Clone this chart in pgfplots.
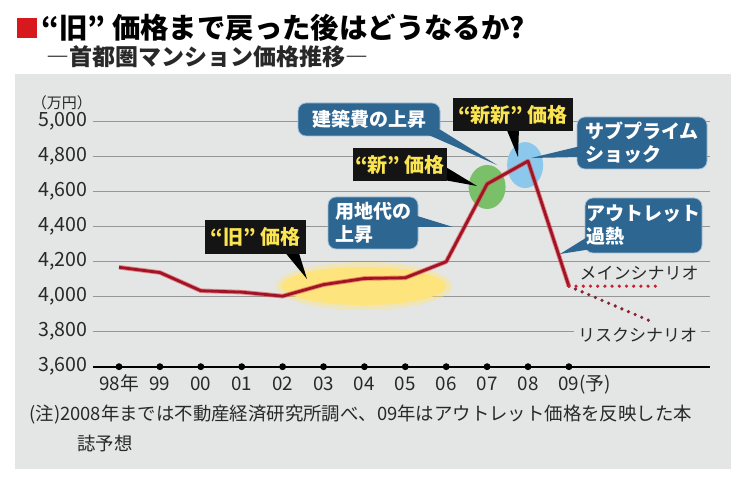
\documentclass[border=0pt]{standalone}
\usepackage{fontspec}
\setmainfont{Noto Sans CJK JP}
\usepackage{pgfplots}
\pgfplotsset{compat=1.18}
\definecolor{panel}{RGB}{228,230,230}
\definecolor{titlered}{RGB}{215,25,30}
\definecolor{gridgray}{RGB}{150,150,150}
\definecolor{linered}{RGB}{160,20,40}
\definecolor{glowred}{RGB}{225,70,70}
\definecolor{dotred}{RGB}{205,30,50}
\definecolor{riskred}{RGB}{135,35,50}
\definecolor{cblue}{RGB}{46,102,146}
\definecolor{cedge}{RGB}{160,190,215}
\definecolor{cyellow}{RGB}{250,228,80}
\definecolor{hiyellow}{RGB}{253,228,125}
\definecolor{higreen}{RGB}{122,192,104}
\definecolor{hiblue}{RGB}{140,200,235}
\definecolor{txt}{RGB}{40,40,40}
\begin{document}
\begin{tikzpicture}
\begin{scope}[x=0.5pt,y=-0.5pt,shift={(0pt,242.5pt)}]
  \fill[white] (0,0) rectangle (750,485);
  \fill[panel] (15,74) rectangle (731,469);
  \fill[titlered] (17,18) rectangle (37,38);
  \node[anchor=west, inner sep=0pt, font=\bfseries\fontsize{14.2}{16}\selectfont, text=black] at (41,28) {“旧” 価格まで戻った後はどうなるか?};
  \node[anchor=west, inner sep=0pt, font=\bfseries\fontsize{11.5}{13}\selectfont, text=txt] at (46,57) {―首都圏マンション価格推移―};
  \node[inner sep=0pt, font=\fontsize{7.5}{8}\selectfont, text=txt] at (62,103) {（万円）};
  \node[anchor=west, inner sep=0pt, font=\fontsize{9.2}{10}\selectfont, text=txt] at (29,415) {(注)2008年までは不動産経済研究所調べ、09年はアウトレット価格を反映した本};
  \node[anchor=west, inner sep=0pt, font=\fontsize{9.2}{10}\selectfont, text=txt] at (77,443) {誌予想};
\end{scope}
\begin{axis}[
  at={(46.5pt,59.15pt)}, anchor=south west,
  scale only axis, width=308.5pt, height=122.5pt,
  xmin=-0.636, xmax=14.45, ymin=3600, ymax=5000,
  clip=false,
  separate axis lines,
  axis x line*=bottom, axis y line*=left,
  x axis line style={black, line width=0.9pt},
  y axis line style={draw=none},
  major tick length=0pt,
  ymajorgrids, grid style={color=gridgray, line width=0.75pt},
  ytick={3600,3800,4000,4200,4400,4600,4800,5000},
  yticklabels={{3,600},{3,800},{4,000},{4,200},{4,400},{4,600},{4,800},{5,000}},
  xtick={0,...,11},
  xticklabels={98年,99,00,01,02,03,04,05,06,07,08,09\rlap{(予)}},
  ticklabel style={text=txt},
  yticklabel style={font=\fontsize{9.8}{10}\selectfont, anchor=east, inner xsep=0pt, xshift=-2.5pt},
  xticklabel style={font=\fontsize{9.4}{10}\selectfont, anchor=base, yshift=-12pt},
]
  % highlights
  \fill[hiyellow, opacity=0.45] (axis cs:5.99,4061) ellipse [x radius=44pt, y radius=12pt];
  \fill[hiyellow] (axis cs:5.99,4061) ellipse [x radius=41pt, y radius=9.5pt];
  \fill[higreen] (axis cs:9.0,4627) ellipse [x radius=9.25pt, y radius=11pt];
  \fill[hiblue] (axis cs:9.93,4752) ellipse [x radius=9pt, y radius=11.5pt];
  % price line
  \addplot[glowred, opacity=0.6, line width=2.3pt, line join=round] coordinates {
    (0,4168) (1,4138) (2,4034) (3,4026) (4,4003) (5,4069) (6,4104) (7,4108) (8,4200) (9,4644) (10,4775) (11,4060)};
  \addplot[linered, line width=1.4pt, line join=round] coordinates {
    (0,4168) (1,4138) (2,4034) (3,4026) (4,4003) (5,4069) (6,4104) (7,4108) (8,4200) (9,4644) (10,4775) (11,4060)};
  % scenarios
  \addplot[riskred, line width=1.8pt, line cap=round, dash pattern=on 0pt off 3.6pt] coordinates {(11,4060) (13.1,3850)};
  \addplot[dotred, line width=1.8pt, line cap=round, dash pattern=on 0pt off 3.6pt] coordinates {(11,4060) (13.2,4060)};
  % axis dots
  \addplot[only marks, mark=*, mark size=1.5pt, black] coordinates {
    (0,3600) (1,3600) (2,3600) (3,3600) (4,3600) (5,3600) (6,3600) (7,3600) (8,3600) (9,3600) (10,3600) (11,3600)};
\end{axis}
\begin{scope}[x=0.5pt,y=-0.5pt,shift={(0pt,242.5pt)}]
  \tikzset{
    bbox/.style={fill=cblue, draw=cedge, line width=0.4pt, rounded corners=4pt},
    btext/.style={inner sep=0pt, text=white, font=\bfseries\fontsize{9.5}{11.5}\selectfont, align=left},
    ktext/.style={inner sep=0pt, text=cyellow, font=\bfseries\fontsize{10}{12}\selectfont},
  }
  % black boxes
  \fill[black] (283,250) -- (307,279) -- (298,250) -- cycle;
  \fill[black!92] (205,220) rectangle (306,254);
  \node[ktext] at (255.5,237) {“旧” 価格};
  \fill[black] (444,166) -- (477,186) -- (444,180) -- cycle;
  \fill[black!92] (353,148) rectangle (447,181);
  \node[ktext] at (400,164.5) {“新” 価格};
  \fill[black] (506,128) -- (518,157) -- (519,128) -- cycle;
  \fill[black!92] (453,98) rectangle (573,131);
  \node[ktext] at (513,114.5) {“新新” 価格};
  % blue callouts
  \draw[bbox] (298,103) rectangle (440,136);
  \fill[cblue] (424,133) -- (497,165) -- (436,127) -- cycle;
  \node[btext] at (369,119.5) {建築費の上昇};
  \draw[bbox] (328,197) rectangle (418,249);
  \fill[cblue] (414,215) -- (453,227) -- (414,227) -- cycle;
  \node[btext] at (373,223) {用地代の\\上昇};
  \draw[bbox] (577,117) rectangle (707,169);
  \fill[cblue] (581,146) -- (531,158) -- (581,157) -- cycle;
  \node[btext] at (642,143) {サブプライム\\ショック};
  \draw[bbox] (585,198) rectangle (702,253);
  \fill[cblue] (589,236) -- (560,254) -- (592,249) -- cycle;
  \node[btext] at (643.5,225.5) {アウトレット\\過熱};
  % scenario labels
  \node[inner sep=0pt, font=\fontsize{8.5}{10}\selectfont, text=txt] at (639,273) {メインシナリオ};
  \node[fill=panel, inner xsep=2pt, inner ysep=0pt, font=\fontsize{8.5}{10}\selectfont, text=txt] at (637.5,335) {リスクシナリオ};
\end{scope}
\end{tikzpicture}
\end{document}
